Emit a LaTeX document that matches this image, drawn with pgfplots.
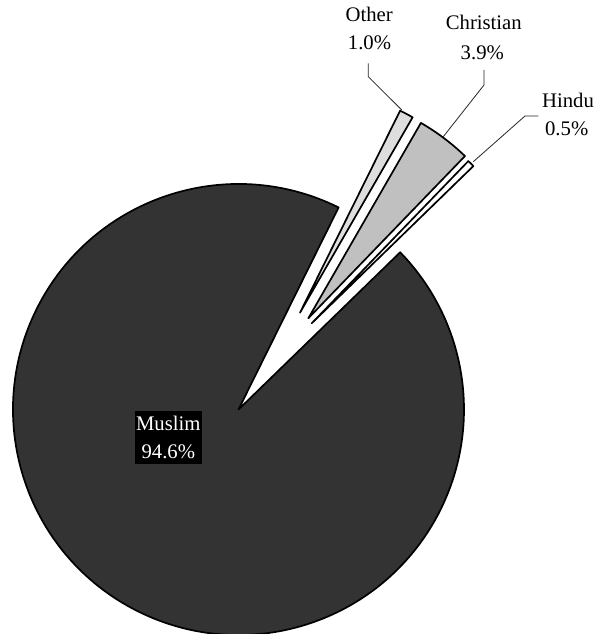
\documentclass[border=0pt]{standalone}
\usepackage{pgfplots}
\pgfplotsset{compat=1.18}
\usepackage{fontspec}
\setmainfont{Liberation Serif}
\definecolor{muslim}{HTML}{333333}
\definecolor{christian}{HTML}{C0C0C0}
\definecolor{other}{HTML}{DEDEDE}
\definecolor{hindu}{HTML}{FFFFFF}
\tikzset{slice/.style={draw=black, line width=1.7bp, line join=round, overlay},
  lab/.style={anchor=base, inner sep=0pt, font=\fontsize{20.8}{28}\selectfont},
  leader/.style={draw=black!85, line width=0.8bp}}
% current start angle of the next slice (degrees)
\def\curang{44.2}
% \slice{percent}{explode dx}{explode dy}{fill colour}
\newcommand\slice[4]{%
  \pgfmathsetmacro\sa{\curang}%
  \pgfmathsetmacro\sb{\curang+#1*3.6}%
  \edef\temp{\noexpand\draw[slice, fill=#4] (axis cs:#2,#3) -- ++(\sa:225.5bp)
     arc[start angle=\sa, end angle=\sb, radius=225.5bp] -- cycle;}%
  \temp
  \xdef\curang{\sb}%
}
\begin{document}
\begin{tikzpicture}
\begin{axis}[x=1bp, y=1bp,
  xmin=-238.5, xmax=354.5, ymin=-224.5, ymax=409.5,
  hide axis, clip=false]
% picture frame (invisible), fixes the bounding box
\path (axis cs:-238.5,-224.5) rectangle (axis cs:354.5,409.5);
% value (%), explode offset dx, dy, colour
\slice{0.5}{73.2}{86.2}{hindu}
\slice{3.9}{69.8}{91.2}{christian}
\slice{1.0}{61.5}{96.8}{other}
\slice{94.6}{0}{0}{muslim}
% leader lines
\draw[leader] (axis cs:129.8,346.2) -- (axis cs:129.8,332.8) -- (axis cs:163.2,299.5);
\draw[leader] (axis cs:245.5,339.5) -- (axis cs:245.5,324.5) -- (axis cs:204.8,272.8);
\draw[leader] (axis cs:299.8,293.5) -- (axis cs:286.5,293.5) -- (axis cs:234.8,247.8);
% labels
\node[lab] at (axis cs:130.7,387.8) {Other};
\node[lab] at (axis cs:131,359.5) {1.0\%};
\node[lab] at (axis cs:245.3,379.5) {Christian};
\node[lab] at (axis cs:243.8,350.2) {3.9\%};
\node[lab] at (axis cs:329.5,302.2) {Hindu};
\node[lab] at (axis cs:328.2,273.8) {0.5\%};
\node[fill=black, text=white, align=center, inner xsep=1.5bp, inner ysep=5bp,
  font=\fontsize{20.8}{28}\selectfont] at (axis cs:-70.2,-27.8) {Muslim\\94.6\%};
\end{axis}
\end{tikzpicture}
\end{document}
